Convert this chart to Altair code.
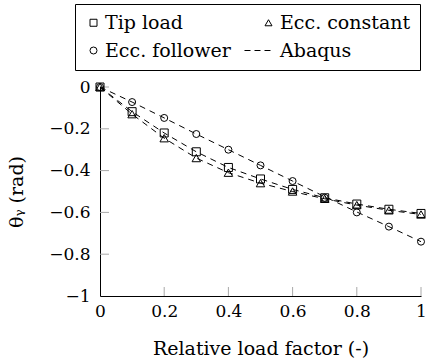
import altair as alt
import pandas as pd

# ---- data ----
load = [0.0, 0.1, 0.2, 0.3, 0.4, 0.5, 0.6, 0.7, 0.8, 0.9, 1.0]
tip_load = [0.0, -0.118, -0.22, -0.31, -0.385, -0.44, -0.49, -0.53, -0.56, -0.585, -0.605]
ecc_constant = [0.0, -0.13, -0.245, -0.34, -0.41, -0.46, -0.50, -0.535, -0.565, -0.59, -0.61]
ecc_follower = [0.0, -0.072, -0.148, -0.225, -0.30, -0.375, -0.45, -0.53, -0.60, -0.668, -0.74]

abaqus_tip = [0.0, -0.118, -0.22, -0.31, -0.385, -0.44, -0.49, -0.53, -0.56, -0.585, -0.605]
abaqus_constant = [0.0, -0.13, -0.245, -0.34, -0.41, -0.46, -0.50, -0.535, -0.565, -0.59, -0.61]
abaqus_follower = [0.0, -0.072, -0.148, -0.225, -0.30, -0.375, -0.45, -0.525, -0.598, -0.668, -0.74]

# legend order (filled column by column in the 2x2 legend)
series_names = ["Tip load", "Ecc. follower", "Ecc. constant", "Abaqus"]
series_shapes = ["square", "circle", "triangle-up"]
x_label_values = [0, 0.2, 0.4, 0.6, 0.8, 1]
y_label_values = [0, -0.2, -0.4, -0.6, -0.8, -1]
x_tick_values = [0.2, 0.4, 0.6, 0.8, 1]
y_tick_values = [0, -0.2, -0.4, -0.6, -0.8]

FONT = "DejaVu Serif"
FS_TICK = 17
FS_TEXT = 19
W, H = 321, 209
TICK = 9

pts = pd.DataFrame({
    "load": load * 3,
    "theta": tip_load + ecc_constant + ecc_follower,
    "series": ["Tip load"] * len(load) + ["Ecc. constant"] * len(load) + ["Ecc. follower"] * len(load),
})
lines = pd.DataFrame({
    "load": load * 3,
    "theta": abaqus_tip + abaqus_constant + abaqus_follower,
    "case": ["tip"] * len(load) + ["const"] * len(load) + ["follow"] * len(load),
})

xs = alt.Scale(domain=[0, 1], nice=False, zero=False)
ys = alt.Scale(domain=[-1, 0], nice=False, zero=False)

x_axis = alt.Axis(
    values=x_label_values, labelExpr="toString(datum.value)", ticks=False, grid=False,
    domainColor="black", domainWidth=1, labelFont=FONT, labelFontSize=FS_TICK, labelColor="black",
    labelPadding=7, labelFlush=False, labelOverlap=False,
    titleFont=FONT, titleFontSize=FS_TEXT, titleFontWeight="normal",
    titleColor="black", titleY=58, titleBaseline="alphabetic",
)
y_axis = alt.Axis(
    values=y_label_values,
    labelExpr="datum.value < 0 ? '\u2212' + toString(-datum.value) : toString(datum.value)",
    ticks=False, grid=False, domainColor="black", domainWidth=1, labelFont=FONT, labelFontSize=FS_TICK,
    labelColor="black", labelPadding=10, labelFlush=False, labelOverlap=False,
    titleFont=FONT, titleFontSize=FS_TEXT, titleFontWeight="normal",
    titleColor="black", titleX=-84, titleY=H / 2, titleBaseline="middle", titleAlign="center",
)
X_TITLE = "Relative load factor (-)"
Y_TITLE = "\u03b8\u1d67 (rad)"

legend = alt.Legend(
    title=None, orient="none", legendX=-25, legendY=-83, columns=2, strokeColor="black",
    fillColor="white", padding=9, labelFont=FONT, labelFontSize=FS_TEXT, labelColor="black",
    symbolStrokeColor="black", symbolStrokeWidth=1, symbolSize=49, labelOffset=2,
    rowPadding=8, columnPadding=11,
)

# dashed-line legend glyph (unit = half the symbol width = 3.5 px)
dash_path = "M-6.86,0H-5.14M-4,0H-2.29M-1.14,0H0.57"

def xenc(field):
    return alt.X(field, scale=xs, axis=x_axis, title=X_TITLE)

def yenc(field):
    return alt.Y(field, scale=ys, axis=y_axis, title=Y_TITLE)

xticks = alt.Chart(pd.DataFrame({"v": x_tick_values})).mark_rule(color="#a8a8a8", strokeWidth=1).encode(
    x=xenc("v:Q"), y=alt.value(H), y2=alt.value(H - TICK)
)
yticks = alt.Chart(pd.DataFrame({"v": y_tick_values})).mark_rule(color="#a8a8a8", strokeWidth=1).encode(
    y=yenc("v:Q"), x=alt.value(0), x2=alt.value(TICK)
)

abaqus = alt.Chart(lines).mark_line(color="black", strokeWidth=1, strokeDash=[6, 5]).encode(
    x=xenc("load:Q"), y=yenc("theta:Q"), detail="case:N",
)

points = alt.Chart(pts).transform_calculate(
    msize="datum.series == 'Tip load' ? 64 : (datum.series == 'Ecc. constant' ? 72 : 49)"
).mark_point(filled=False, color="black", strokeWidth=1, opacity=1).encode(
    x=xenc("load:Q"), y=yenc("theta:Q"),
    shape=alt.Shape("series:N", scale=alt.Scale(domain=series_names,
                    range=series_shapes + [dash_path]), legend=legend),
    size=alt.Size("msize:Q", scale=None, legend=None),
)

chart = alt.layer(xticks, yticks, abaqus, points).properties(
    width=W, height=H,
    padding={"left": 100, "top": 87, "right": 17, "bottom": 64},
    autosize=alt.AutoSizeParams(type="none"),
    background="white",
).configure_view(strokeWidth=0)

chart.save("out.html", embed_options={"renderer": "svg", "actions": False})
